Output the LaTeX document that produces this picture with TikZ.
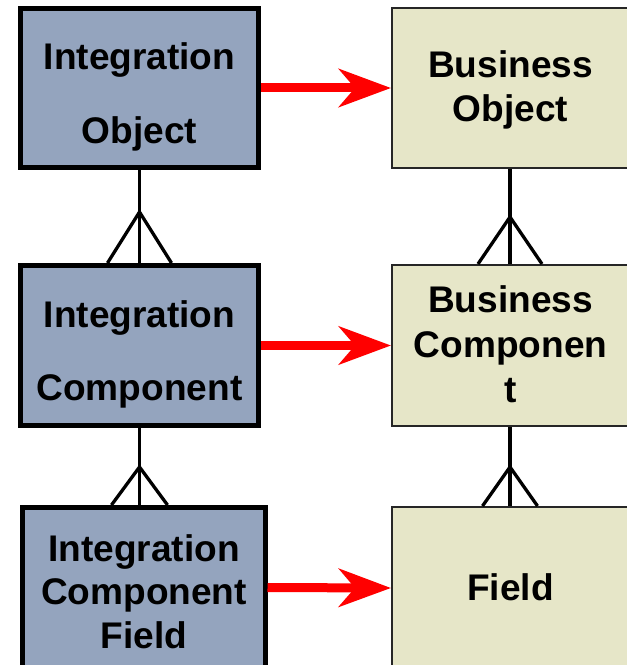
\documentclass[tikz,border=0pt]{standalone}
\usepackage{fontspec}
\setmainfont{Liberation Sans}
\usetikzlibrary{arrows.meta,calc}
\definecolor{intfill}{RGB}{148,164,190}
\definecolor{busfill}{RGB}{230,230,200}
\begin{document}
\begin{tikzpicture}[x=1bp,y=-1bp,
  intbox/.style={draw=black,line width=5bp,fill=intfill,rectangle,inner sep=0pt},
  busbox/.style={draw=black!85,line width=2bp,fill=busfill,rectangle,inner sep=0pt},
  lbl/.style={anchor=base,inner sep=0pt,font=\fontsize{37.2}{40}\selectfont\bfseries},
  maps/.style={draw=red,line width=9bp,-{Stealth[length=52bp,width=38bp,inset=16bp]}},
  er/.style={draw=black,line width=3.3bp}]
\useasboundingbox (0,0) rectangle (627,665);
\clip (0,0) rectangle (627,665);
% boxes
\node[intbox,minimum width=238bp,minimum height=159bp] (io) at (139.5,88) {};
\node[intbox,minimum width=238bp,minimum height=160bp] (ic) at (139.5,345.5) {};
\node[intbox,minimum width=242bp,minimum height=160bp] (icf) at (144,587.5) {};
\node[busbox,minimum width=236bp,minimum height=160bp] (bo) at (510,88) {};
\node[busbox,minimum width=236bp,minimum height=161bp] (bc) at (510,345.5) {};
\node[busbox,minimum width=236bp,minimum height=162bp] (f) at (510,588) {};
% labels
\node[lbl] (io1) at (139.5,70) {Integration};
\node[lbl] (io2) at (139.5,143) {Object};
\node[lbl] (ic1) at (139.5,327) {Integration};
\node[lbl] (ic2) at (139.5,400) {Component};
\node[lbl] (icf1) at (144,561) {Integration};
\node[lbl] (icf2) at (144,604) {Component};
\node[lbl] (icf3) at (144,648) {Field};
\node[lbl] (bo1) at (510.5,78) {Business};
\node[lbl] (bo2) at (510.5,122) {Object};
\node[lbl] (bc1) at (510.5,312) {Business};
\node[lbl] (bc2) at (510.5,357) {Componen};
\node[lbl] (bc3) at (510.5,402) {t};
\node[lbl] (f1) at (510.5,600) {Field};
% relationships (crow's feet)
\draw[er] (io.south) -- (ic.north);
\draw[er] ($(ic.north)+(-32,0)$) -- ($(ic.north)+(0,-51)$) -- ($(ic.north)+(32,0)$);
\draw[er] (ic.south) -- (icf.north -| ic.south);
\draw[er] ($(icf.north -| ic.south)+(-28,0)$) -- ($(icf.north -| ic.south)+(0,-38)$) -- ($(icf.north -| ic.south)+(28,0)$);
\draw[er] (bo.south) -- (bc.north);
\draw[er] ($(bc.north)+(-32,0)$) -- ($(bc.north)+(0,-47)$) -- ($(bc.north)+(32,0)$);
\draw[er] (bc.south) -- (f.north);
\draw[er] ($(f.north)+(-27.5,0)$) -- ($(f.north)+(0,-39)$) -- ($(f.north)+(27.5,0)$);
% mapping arrows
\draw[maps] (io.east) -- (bo.west);
\draw[maps] (ic.east) -- (bc.west);
\draw[maps] (icf.east) -- (f.west);
\end{tikzpicture}
\end{document}
